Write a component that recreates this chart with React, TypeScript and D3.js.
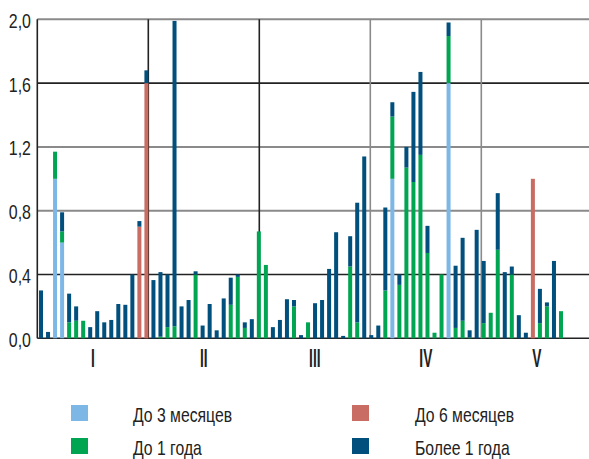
import React from "react";
import * as d3 from "d3";

// Series values per bar (stack segments, bottom to top)
const upTo3Months = [
  0, 0, 1.0, 0.6, 0, 0, 0, 0, 0, 0, 0, 0, 0, 0, 0, 0,
  0, 0, 0, 0, 0, 0, 0, 0, 0, 0, 0, 0, 0, 0, 0, 0,
  0, 0, 0, 0, 0, 0, 0, 0, 0, 0, 0, 0, 0, 0, 0, 0,
  0, 0, 1.0, 0, 0, 0, 0, 0, 0, 0, 1.6, 0, 0, 0, 0, 0,
  0, 0, 0, 0, 0, 0, 0, 0, 0, 0, 0,
];
const upTo6Months = [
  0, 0, 0, 0, 0, 0, 0, 0, 0, 0, 0, 0, 0, 0, 0.7, 1.6,
  0, 0, 0, 0, 0, 0, 0, 0, 0, 0, 0, 0, 0, 0, 0, 0,
  0, 0, 0, 0, 0, 0, 0, 0, 0, 0, 0, 0, 0, 0, 0, 0,
  0, 0, 0, 0, 0, 0, 0, 0, 0, 0, 0, 0, 0, 0, 0, 0,
  0, 0, 0, 0, 0, 0, 1.0, 0, 0, 0, 0,
];
const upTo1Year = [
  0, 0, 0.17, 0.07, 0.1, 0.11, 0.11, 0, 0, 0, 0, 0, 0, 0, 0, 0,
  0, 0.01, 0.07, 0.075, 0, 0, 0.4, 0, 0, 0, 0, 0.21, 0.385, 0.065, 0, 0.67,
  0.46, 0, 0, 0, 0.2, 0, 0.1, 0, 0, 0, 0, 0, 0.45, 0.1, 0, 0,
  0, 0.3, 0.39, 0.335, 1.07, 0.98, 1.15, 0.535, 0.035, 0.4, 0.295, 0.065, 0.11, 0.005, 0, 0.095,
  0.16, 0.555, 0, 0.4, 0, 0, 0, 0.095, 0.2, 0, 0.17,
];
const over1Year = [
  0.3, 0.04, 0, 0.12, 0.18, 0.09, 0, 0.07, 0.17, 0.1, 0.115, 0.215, 0.21, 0.4, 0.035, 0.08,
  0.365, 0.405, 0.33, 1.915, 0.2, 0.24, 0.02, 0.08, 0.215, 0.05, 0.25, 0.17, 0.015, 0.035, 0.12, 0,
  0, 0.07, 0.115, 0.245, 0.04, 0.02, 0, 0.22, 0.24, 0.435, 0.665, 0.015, 0.19, 0.75, 1.14, 0.02,
  0.08, 0.52, 0.09, 0.065, 0.13, 0.565, 0.52, 0.17, 0, 0, 0.085, 0.39, 0.52, 0.045, 0.68, 0.39,
  0, 0.355, 0.415, 0.05, 0.145, 0.035, 0, 0.215, 0.025, 0.485, 0,
];

const groups = ["I", "II", "III", "IV", "V"];
const yTicks = [0, 0.4, 0.8, 1.2, 1.6, 2.0];
const seriesNames = ["До 3 месяцев", "До 6 месяцев", "До 1 года", "Более 1 года"];
const seriesColors = ["#7cb7e6", "#c96c64", "#00a551", "#014f7c"];

// visual styling of grid (scan look)
const gridColors: Record<string, string> = { "0": "#222", "0.4": "#222", "0.8": "#8a8a8a", "1.2": "#8a8a8a", "1.6": "#222", "2": "#8a8a8a" };
const sepColors = ["#222", "#222", "#222", "#8a8a8a", "#8a8a8a"];

export default function App() {
  const W = 589, H = 459;
  const plotLeft = 37.3, plotRight = 589, groupW = 111;
  const y = d3.scaleLinear().domain([0, 2]).range([338.3, 19.3]);
  const n = over1Year.length;
  const x = d3.scaleBand<number>().domain(d3.range(n)).range([37.5, 564.5]).paddingInner(0.43).paddingOuter(0.215);
  const gx = d3.scaleBand<string>().domain(groups).range([plotLeft, plotLeft + groupW * groups.length]);

  const rows = d3.range(n).map((i) => ({
    i,
    s0: upTo3Months[i],
    s1: upTo6Months[i],
    s2: upTo1Year[i],
    s3: over1Year[i],
  }));
  const stack = d3.stack<any>().keys(["s0", "s1", "s2", "s3"]);
  const layers = stack(rows);

  const fmt = (v: number) => v.toFixed(1).replace(".", ",");
  const font = "'Liberation Sans', Arial, sans-serif";
  // legend placement: [column, row] for each series
  const legendPos = [[0, 0], [1, 0], [0, 1], [1, 1]];

  return (
    <svg width={W} height={H} style={{ position: "absolute", left: 0, top: 0, background: "#fff" }}>
      {/* gridlines */}
      {yTicks.map((t) => (
        <line key={"g" + t} x1={plotLeft} x2={plotRight} y1={y(t)} y2={y(t)}
          stroke={gridColors[String(t)]} strokeWidth={gridColors[String(t)] === "#222" ? 1.6 : 2} />
      ))}
      {/* group separators and left axis */}
      {groups.map((g, k) => (
        <line key={"s" + g} x1={gx(g)!} x2={gx(g)!} y1={y(2)} y2={y(0)}
          stroke={sepColors[k]} strokeWidth={1.6} />
      ))}
      {/* bars */}
      {layers.map((layer, li) => (
        <g key={"l" + li} fill={seriesColors[li]}>
          {layer.map((d, i) =>
            d[1] - d[0] > 0 ? (
              <rect key={i} x={x(i)!} width={x.bandwidth()} y={y(d[1])} height={y(d[0]) - y(d[1])} />
            ) : null
          )}
        </g>
      ))}
      {/* y tick labels */}
      {yTicks.map((t) => (
        <g key={"t" + t} transform={`translate(31,${y(t) + 8.5}) scale(0.76,1)`}>
          <text textAnchor="end" fontFamily={font} fontSize={21} fill="#222">{fmt(t)}</text>
        </g>
      ))}
      {/* group labels */}
      {groups.map((g) => (
        <g key={"gl" + g} transform={`translate(${gx(g)! + gx.bandwidth() / 2},367) scale(0.55,1)`}>
          <text textAnchor="middle" fontFamily={font} fontSize={25} fontWeight={700} fill="#222">{g}</text>
        </g>
      ))}
      {/* legend */}
      {seriesNames.map((name, k) => {
        const [c, r] = legendPos[k];
        const sx = c === 0 ? 71 : 352;
        const tx = c === 0 ? 133 : 415;
        const sy = r === 0 ? 405 : 438;
        return (
          <g key={"lg" + k}>
            <rect x={sx} y={sy} width={17} height={16} fill={seriesColors[k]} />
            <g transform={`translate(${tx},${sy + 17}) scale(0.75,1)`}>
              <text fontFamily={font} fontSize={21} fill="#222">{name}</text>
            </g>
          </g>
        );
      })}
    </svg>
  );
}
